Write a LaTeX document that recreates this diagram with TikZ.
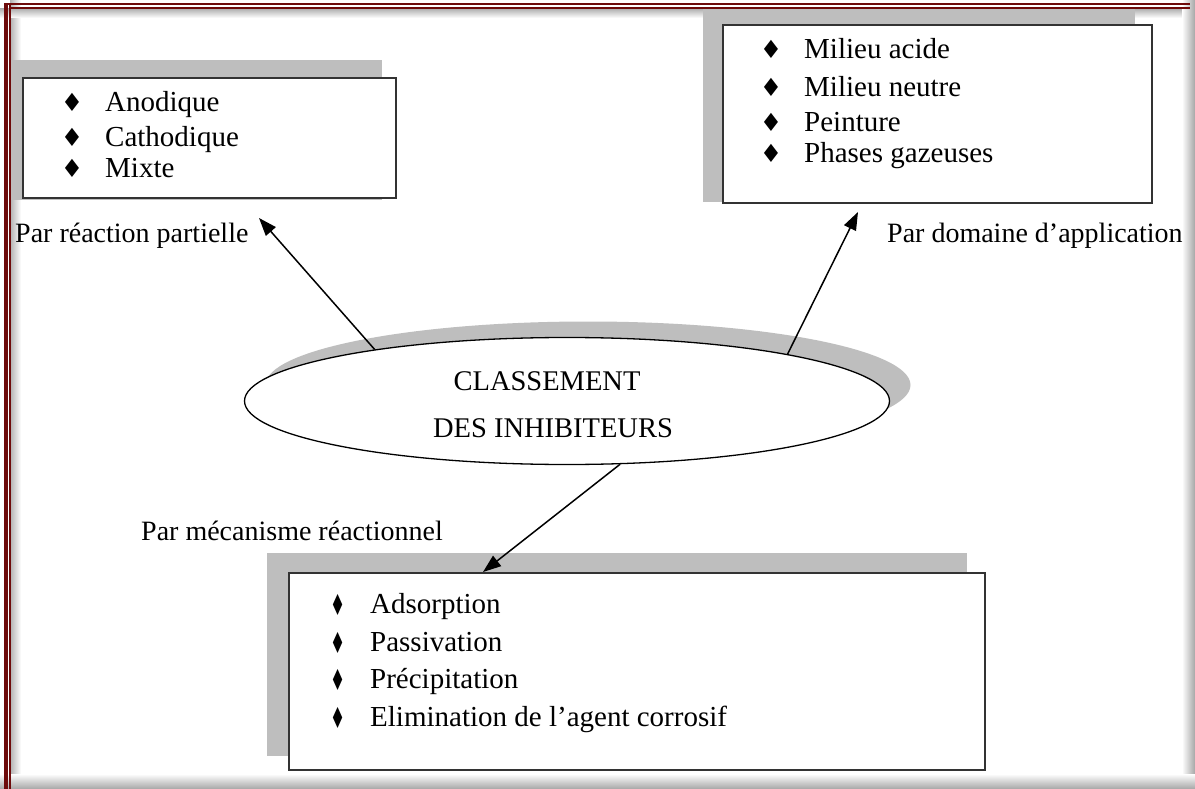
\documentclass[tikz,border=0pt]{standalone}
\usepackage{fontspec}
\setmainfont{Liberation Serif}
\newfontfamily\symfont{DejaVu Sans}
\usetikzlibrary{shapes.geometric,arrows.meta}

\definecolor{framered}{HTML}{6E0B0B}
\definecolor{shadowgray}{HTML}{BEBEBE}

\tikzset{
  x=1pt, y=-1pt,
  listbox/.style={draw=black!80, line width=1.2pt, fill=white},
  boxshadow/.style={fill=shadowgray, draw=none},
  item/.style={anchor=base west, inner sep=0pt, font=\fontsize{29}{34}\selectfont},
  bul/.style={anchor=base, inner sep=0pt, font=\symfont\fontsize{25}{28}\selectfont},
  slimbul/.style={anchor=base, inner sep=0pt, xscale=0.58, font=\symfont\fontsize{29}{32}\selectfont},
  label/.style={anchor=base west, inner sep=0pt, font=\fontsize{28}{33}\selectfont},
  title/.style={anchor=base, inner sep=0pt, font=\fontsize{28.5}{33}\selectfont},
  link/.style={line width=1.5pt, -{Triangle[length=18pt,width=13pt]}},
}

\begin{document}
\begin{tikzpicture}
\useasboundingbox (0,0) rectangle (1195,789);
\fill[white] (0,0) rectangle (1195,789);

% page frame: soft inner shading and a double dark red rule on top and left
\shade[left color=black!30, right color=white] (10,0) rectangle (21,789);
\shade[top color=black!30, bottom color=white] (0,9) rectangle (1195,18);
\shade[left color=white, right color=black!35] (1182,0) rectangle (1195,789);
\shade[top color=white, bottom color=black!35] (0,774) rectangle (1195,789);
\fill[framered] (4,3) rectangle (7.5,789);
\fill[framered] (8.8,3) rectangle (10.8,789);
\fill[framered] (4,3) rectangle (1190,5.2);
\fill[framered] (8.8,6.6) rectangle (1190,8.6);

% box shadows
\fill[boxshadow] (11,60) rectangle (382,200);
\fill[boxshadow] (703,9) rectangle (1135,202);
\fill[boxshadow] (267,553) rectangle (967,756);

% boxes
\node[listbox, minimum width=373pt, minimum height=120pt] (boxL) at (209.5,138) {};
\node[listbox, minimum width=429pt, minimum height=178pt] (boxR) at (937.5,114) {};
\node[listbox, minimum width=696pt, minimum height=197pt] (boxB) at (637,671.5) {};

% central ellipse with its offset shadow
\fill[shadowgray] (588,385) ellipse [x radius=322.5, y radius=63.5];
\node[draw=black, line width=1.3pt, fill=white, ellipse, inner sep=0pt,
      minimum width=645pt, minimum height=127pt] (cls) at (567,401) {};
\node[title] (t1) at (547,390) {CLASSEMENT};
\node[title] (t2) at (553,437) {DES INHIBITEURS};

% items of the upper left box
\node[bul] (bL1) at (72,112) {♦};
\node[bul] (bL2) at (72,146.5) {♦};
\node[bul] (bL3) at (72,177.5) {♦};
\node[item] (iL1) at (105,112) {Anodique};
\node[item] (iL2) at (105,146.5) {Cathodique};
\node[item] (iL3) at (105,177.5) {Mixte};

% items of the upper right box
\node[bul] (bR1) at (771,59) {♦};
\node[bul] (bR2) at (771,97) {♦};
\node[bul] (bR3) at (771,132) {♦};
\node[bul] (bR4) at (771,163) {♦};
\node[item] (iR1) at (804,59) {Milieu acide};
\node[item] (iR2) at (804,97) {Milieu neutre};
\node[item] (iR3) at (804,132) {Peinture};
\node[item] (iR4) at (804,163) {Phases gazeuses};

% items of the lower box
\node[slimbul] (bB1) at (338,615) {♦};
\node[slimbul] (bB2) at (338,653) {♦};
\node[slimbul] (bB3) at (338,690) {♦};
\node[slimbul] (bB4) at (338,728) {♦};
\node[item] (iB1) at (370,613) {Adsorption};
\node[item] (iB2) at (370,651) {Passivation};
\node[item] (iB3) at (370,688) {Précipitation};
\node[item] (iB4) at (370,726) {Elimination de l’agent corrosif};

% branch labels
\node[label] (lL) at (15,242) {Par réaction partielle};
\node[label] (lR) at (887,243) {Par domaine d’application};
\node[label] (lB) at (141,540) {Par mécanisme réactionnel};

% arrow ends
\coordinate (tipL) at (259,218);
\coordinate (tipR) at (858,212);
\coordinate (tipB) at (483,572);

\draw[link] (cls.165.4) -- (tipL);
\draw[link] (cls.12.1) -- (tipR);
\draw[link] (cls.-50.3) -- (tipB);
\end{tikzpicture}
\end{document}
